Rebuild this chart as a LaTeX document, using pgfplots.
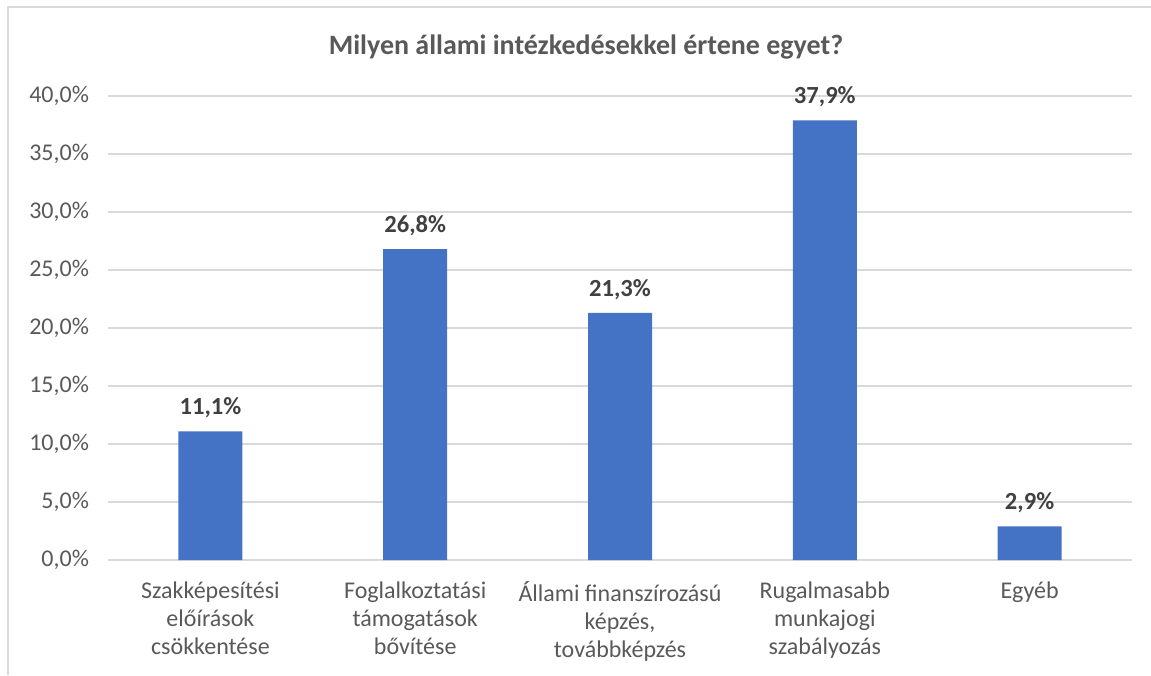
\documentclass[border=0pt]{standalone}
\usepackage{pgfplots}
\pgfplotsset{compat=1.18}
\usepackage{fontspec}
\setmainfont{Carlito}
\definecolor{barblue}{HTML}{4472C4}
\definecolor{txtgray}{HTML}{595959}
\definecolor{lblgray}{HTML}{404040}
\definecolor{gridgray}{HTML}{D9D9D9}
\pgfkeys{/pgf/number format/assume math mode=true}

\begin{document}
\begin{tikzpicture}
  % picture frame: 1 px = 0.5pt
  \useasboundingbox (0,0) rectangle (575.5pt,-337.5pt);
  \draw[gridgray, line width=0.8pt] (4pt,-337.5pt) -- (4pt,-3.5pt) -- (575.5pt,-3.5pt);
  \node[font=\fontsize{14}{17}\selectfont\bfseries, text=txtgray] at (293pt,-23.5pt)
    {Milyen állami intézkedésekkel értene egyet?};
  \begin{axis}[
    at={(54pt,-280pt)}, anchor=south west,
    scale only axis, width=512pt, height=232pt,
    ybar, bar width=32pt,
    xmin=-0.5, xmax=4.5, ymin=0, ymax=40,
    ytick={0,5,...,40},
    xtick=data,
    xticklabels={{Szakképesítési\\előírások\\csökkentése},
                 {Foglalkoztatási\\támogatások\\bővítése},
                 {Állami finanszírozású\\képzés,\\továbbképzés},
                 {Rugalmasabb\\munkajogi\\szabályozás},
                 {Egyéb}},
    axis line style={draw=none},
    tick style={draw=none},
    ymajorgrids, grid style={gridgray, line width=0.8pt},
    yticklabel={\pgfmathprintnumber[fixed,fixed zerofill,precision=1,use comma]{\tick}\%},
    yticklabel style={font=\fontsize{12}{14}\selectfont, text=txtgray, xshift=-6pt},
    xticklabel style={font=\fontsize{12}{14}\selectfont, text=txtgray, align=center, yshift=-3pt},
    point meta=y,
    nodes near coords={\pgfmathprintnumber[fixed,fixed zerofill,precision=1,use comma]{\pgfplotspointmeta}\%},
    every node near coord/.append style={font=\fontsize{12.3}{14}\selectfont\bfseries, text=lblgray, yshift=3pt},
  ]
  \addplot[fill=barblue, draw=none] coordinates {(0,11.1) (1,26.8) (2,21.3) (3,37.9) (4,2.9)};
  \end{axis}
\end{tikzpicture}
\end{document}
